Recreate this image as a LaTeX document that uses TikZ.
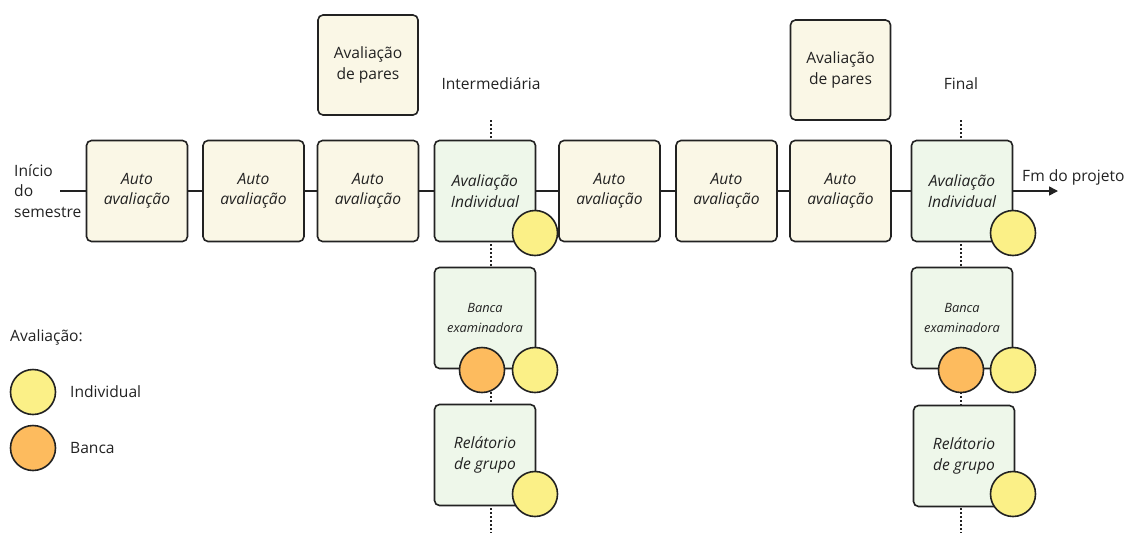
\documentclass[tikz,border=0pt]{standalone}
\usepackage{fontspec}
\setmainfont{Open Sans}
\usetikzlibrary{arrows.meta}
\definecolor{cream}{HTML}{FAF7E6}
\definecolor{mint}{HTML}{EEF7EA}
\definecolor{yel}{HTML}{FBF087}
\definecolor{ora}{HTML}{FDBB5E}
\definecolor{ink}{HTML}{222222}
\tikzset{
  box/.style={draw=ink, line width=1.6pt, rounded corners=5pt, minimum width=101pt, minimum height=101pt, inner sep=0pt, align=center, text=ink, font=\fontsize{15.6}{20.5}\selectfont\itshape},
  autobox/.style={box, fill=cream},
  evalbox/.style={box, fill=mint},
  parbox/.style={box, fill=cream, font=\fontsize{15.6}{20.5}\selectfont, minimum width=100pt, minimum height=100pt},
  smallbox/.style={evalbox, font=\fontsize{12.8}{20}\selectfont\itshape},
  indiv/.style={circle, draw=ink, line width=1.6pt, fill=yel, minimum size=45pt, inner sep=0pt},
  banca/.style={circle, draw=ink, line width=1.6pt, fill=ora, minimum size=45pt, inner sep=0pt},
  lbl/.style={text=ink, font=\fontsize{15.6}{20.5}\selectfont, inner sep=0pt},
  conn/.style={draw=ink, line width=1.6pt},
  dots/.style={draw=ink, line width=1.6pt, dash pattern=on 1.6pt off 2.4pt},
}
\begin{document}
\begin{tikzpicture}[x=1pt,y=-1pt]
\useasboundingbox (0,0) rectangle (1131,533);
% dotted lines
\coordinate (d1t) at (491,120); \coordinate (d1b) at (491,533);
\coordinate (d2t) at (961,120); \coordinate (d2b) at (961,533);
\draw[dots] (d1t) -- (d1b);
\draw[dots] (d2t) -- (d2b);
% main row
\node[autobox] (b1) at (137,191) {Auto\\avaliação};
\node[autobox] (b2) at (253.5,191) {Auto\\avaliação};
\node[autobox] (b3) at (368,191) {Auto\\avaliação};
\node[evalbox] (b4) at (485,191) {Avaliação\\Individual};
\node[autobox] (b5) at (609.5,191) {Auto\\avaliação};
\node[autobox] (b6) at (726.5,191) {Auto\\avaliação};
\node[autobox] (b7) at (840.5,191) {Auto\\avaliação};
\node[evalbox] (b8) at (962,191) {Avaliação\\Individual};
% top
\node[parbox] (p1) at (368,65) {Avaliação\\de pares};
\node[parbox] (p2) at (840.5,70) {Avaliação\\de pares};
\node[lbl] (t1) at (491,84) {Intermediária};
\node[lbl] (t2) at (961,84) {Final};
% lower
\node[smallbox] (k1) at (485,318) {Banca\\examinadora};
\node[evalbox] (r1) at (485,455) {Relátorio\\de grupo};
\node[smallbox] (k2) at (962,318) {Banca\\examinadora};
\node[evalbox] (r2) at (964,456) {Relátorio\\de grupo};
% circles
\node[indiv] (c1) at (535,233) {};
\node[banca] (c2) at (482,370) {};
\node[indiv] (c3) at (535,370) {};
\node[indiv] (c4) at (535,494) {};
\node[indiv] (c5) at (1013,233) {};
\node[banca] (c6) at (961,370) {};
\node[indiv] (c7) at (1013,370) {};
\node[indiv] (c8) at (1013,494) {};
% start/end
\coordinate (s) at (60,191);
\coordinate (e) at (1058,191);
\node[lbl, anchor=west, align=left] (start) at (14,191) {Início\\do\\semestre};
\node[lbl, anchor=west] (fim) at (1022,177) {Fm do projeto};
\draw[conn] (s) -- (b1);
\draw[conn] (b1) -- (b2);
\draw[conn] (b2) -- (b3);
\draw[conn] (b3) -- (b4);
\draw[conn] (b4) -- (b5);
\draw[conn] (b5) -- (b6);
\draw[conn] (b6) -- (b7);
\draw[conn] (b7) -- (b8);
\draw[conn, -{Triangle[length=9pt,width=9pt]}] (b8) -- (e);
% legend
\node[lbl, anchor=west] (lt) at (10,337) {Avaliação:};
\node[indiv] (l1) at (33,392) {};
\node[banca] (l2) at (33,448) {};
\node[lbl, anchor=west] (l1t) at (70,392) {Individual};
\node[lbl, anchor=west] (l2t) at (70,448) {Banca};
\end{tikzpicture}
\end{document}
